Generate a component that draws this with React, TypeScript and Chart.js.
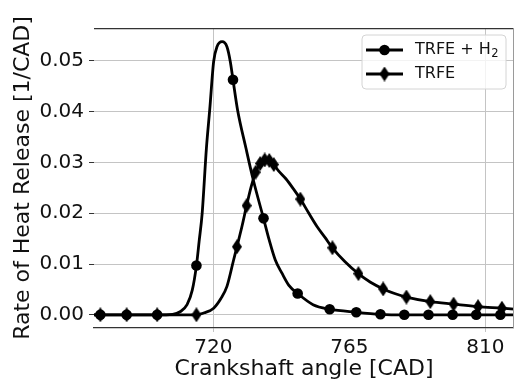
import React, { useEffect, useRef } from "react";
import { Chart, registerables } from "chart.js";

Chart.register(...registerables);

// ---- data ----
const xTicks = [720, 765, 810];
const xGridValues = [720, 810];
const yTicks = [0, 0.01, 0.02, 0.03, 0.04, 0.05];

const legendLabels = ["TRFE + H₂", "TRFE"];
const xTitle = "Crankshaft angle [CAD]";
const yTitle = "Rate of Heat Release [1/CAD]";

const h2Angle = [
  680, 682.6, 691.3, 701.4, 706.5, 709, 711.3, 713, 714.4, 715.3, 716.3, 717.7,
  718.8, 720.1, 721.2, 722.9, 724.5, 725.6, 726.5, 728, 730.8, 733.2, 736.6,
  738.5, 740.5, 742.7, 745, 747.9, 753, 758.5, 767.3, 775.3, 783.2, 791.2,
  799.2, 807, 815, 820,
];
const h2Rate = [
  0, 0, 0, 0, 0.0001, 0.0006, 0.002, 0.0048, 0.0097, 0.0145, 0.02, 0.0328,
  0.0404, 0.0499, 0.0528, 0.0538, 0.0528, 0.0499, 0.0463, 0.0404, 0.0328,
  0.0266, 0.019, 0.0147, 0.0108, 0.0082, 0.0058, 0.0042, 0.002, 0.0011, 0.0005,
  0.0001, 0, 0, 0, 0, 0, 0,
];
const h2Markers = [
  682.6, 691.3, 701.4, 714.4, 726.5, 736.6, 747.9, 758.5, 767.3, 775.3, 783.2,
  791.2, 799.2, 807, 815,
];

const trfeAngle = [
  680, 682.6, 691.3, 701.4, 714.4, 717, 720.1, 722.5, 724.5, 726.7, 727.8,
  729.5, 731, 732.5, 734, 735.5, 737, 738.5, 740, 741.5, 744, 746.5, 748.8,
  751.5, 754.3, 757, 759.4, 763.5, 768, 772, 776.2, 780, 783.9, 791.8, 799.5,
  807.6, 815.5, 820,
];
const trfeRate = [
  0, 0, 0, 0, 0, 0.0004, 0.0013, 0.0032, 0.0056, 0.0108, 0.0134, 0.0175,
  0.0215, 0.0252, 0.0281, 0.0298, 0.0305, 0.0304, 0.0296, 0.0284, 0.0268,
  0.0248, 0.0228, 0.0201, 0.0174, 0.0152, 0.0132, 0.0105, 0.0081, 0.0064,
  0.0051, 0.0042, 0.0035, 0.0026, 0.0021, 0.0016, 0.0013, 0.0011,
];
const trfeMarkers = [
  682.6, 691.3, 701.4, 714.4, 727.8, 731, 734, 735.5, 737, 738.5, 740, 748.8,
  759.4, 768, 776.2, 783.9, 791.8, 799.5, 807.6, 815.5,
];

const FONT = "'DejaVu Sans', 'Liberation Sans', sans-serif";
const INK = "#111111";
const GRID = "#c4c4c4";
const SPINE = "#333333";

function makeThinDiamond(w: number, h: number): HTMLCanvasElement {
  const c = document.createElement("canvas");
  c.width = w;
  c.height = h;
  const g = c.getContext("2d")!;
  g.fillStyle = "#000";
  g.beginPath();
  g.moveTo(w / 2, 0);
  g.lineTo(w, h / 2);
  g.lineTo(w / 2, h);
  g.lineTo(0, h / 2);
  g.closePath();
  g.fill();
  return c;
}

export default function App() {
  const ref = useRef<HTMLCanvasElement | null>(null);

  useEffect(() => {
    document.body.style.margin = "0";
    const canvas = ref.current;
    if (!canvas) return;
    const diamond = makeThinDiamond(10, 15);
    const circleR = 5.3;

    const h2Data = h2Angle.map((x, i) => ({ x, y: h2Rate[i] }));
    const trfeData = trfeAngle.map((x, i) => ({ x, y: trfeRate[i] }));

    const drawMarker = (g: CanvasRenderingContext2D, kind: number, x: number, y: number) => {
      if (kind === 0) {
        g.beginPath();
        g.arc(x, y, circleR, 0, Math.PI * 2);
        g.fillStyle = "#000";
        g.fill();
      } else {
        g.drawImage(diamond, x - diamond.width / 2, y - diamond.height / 2);
      }
    };

    const decor = {
      id: "decor",
      afterDraw(chart: any) {
        const g: CanvasRenderingContext2D = chart.ctx;
        const a = chart.chartArea;
        g.save();
        // top spine
        g.strokeStyle = SPINE;
        g.lineWidth = 1.25;
        g.beginPath();
        g.moveTo(a.left, a.top + 0.5);
        g.lineTo(a.right, a.top + 0.5);
        g.stroke();
        // right edge
        g.strokeStyle = "#9a9a9a";
        g.lineWidth = 1;
        g.beginPath();
        g.moveTo(a.right - 0.5, a.top);
        g.lineTo(a.right - 0.5, a.bottom);
        g.stroke();

        // legend
        const bx = a.right - 152;
        const by = a.top + 7;
        const bw = 144;
        const bh = 54;
        const r = 4;
        g.beginPath();
        g.moveTo(bx + r, by);
        g.lineTo(bx + bw - r, by);
        g.quadraticCurveTo(bx + bw, by, bx + bw, by + r);
        g.lineTo(bx + bw, by + bh - r);
        g.quadraticCurveTo(bx + bw, by + bh, bx + bw - r, by + bh);
        g.lineTo(bx + r, by + bh);
        g.quadraticCurveTo(bx, by + bh, bx, by + bh - r);
        g.lineTo(bx, by + r);
        g.quadraticCurveTo(bx, by, bx + r, by);
        g.closePath();
        g.fillStyle = "rgba(255,255,255,0.8)";
        g.fill();
        g.strokeStyle = "#d4d4d4";
        g.lineWidth = 1;
        g.stroke();

        legendLabels.forEach((label, i) => {
          const ly = by + 15 + i * 24;
          const lx0 = bx + 4;
          const lx1 = bx + 41;
          g.strokeStyle = "#000";
          g.lineWidth = 2.8;
          g.beginPath();
          g.moveTo(lx0, ly);
          g.lineTo(lx1, ly);
          g.stroke();
          drawMarker(g, i, (lx0 + lx1) / 2, ly);
          g.fillStyle = INK;
          g.textBaseline = "middle";
          g.textAlign = "left";
          const tx = bx + 53;
          if (label.endsWith("₂")) {
            const main = label.slice(0, -1);
            g.font = `16px ${FONT}`;
            g.fillText(main, tx, ly);
            const w = g.measureText(main).width;
            g.font = `11.5px ${FONT}`;
            g.fillText("2", tx + w + 0.5, ly + 4);
          } else {
            g.font = `16px ${FONT}`;
            g.fillText(label, tx, ly);
          }
        });
        g.restore();
      },
    };

    const chart = new Chart(canvas, {
      type: "line",
      data: {
        datasets: [
          {
            label: legendLabels[0],
            data: h2Data,
            borderColor: "#000",
            backgroundColor: "#000",
            borderWidth: 2.8,
            cubicInterpolationMode: "monotone",
            pointStyle: "circle",
            pointRadius: (ctx: any) =>
              ctx.raw && h2Markers.includes(ctx.raw.x) ? circleR : 0,
            pointBorderWidth: 0,
            pointHoverRadius: 0,
            order: 1,
          },
          {
            label: legendLabels[1],
            data: trfeData,
            borderColor: "#000",
            backgroundColor: "#000",
            borderWidth: 2.8,
            cubicInterpolationMode: "monotone",
            pointStyle: diamond as any,
            pointRadius: (ctx: any) =>
              ctx.raw && trfeMarkers.includes(ctx.raw.x) ? 5 : 0,
            pointBorderWidth: 0,
            pointHoverRadius: 0,
            order: 0,
          },
        ],
      },
      options: {
        responsive: false,
        animation: false,
        events: [],
        layout: { padding: { top: 28, right: 0, left: 0, bottom: 0 } },
        plugins: {
          legend: { display: false },
          tooltip: { enabled: false },
        },
        scales: {
          x: {
            type: "linear",
            min: 680.5,
            max: 819.5,
            afterFit: (s: any) => {
              s.height = 58;
            },
            afterBuildTicks: (s: any) => {
              s.ticks = xTicks.map((v) => ({ value: v }));
            },
            grid: {
              color: (ctx: any) =>
                ctx.tick && xGridValues.includes(ctx.tick.value) ? GRID : "rgba(0,0,0,0)",
              tickColor: (ctx: any) =>
                ctx.tick && xGridValues.includes(ctx.tick.value) ? GRID : "rgba(0,0,0,0)",
              lineWidth: 1,
              tickLength: 4,
            },
            border: { display: true, color: SPINE, width: 1.25 },
            ticks: {
              color: INK,
              font: { family: FONT, size: 20 },
              padding: 4,
              maxRotation: 0,
              callback: (v: any) => String(v),
            },
            title: {
              display: true,
              text: xTitle,
              color: INK,
              font: { family: FONT, size: 22 },
              padding: { top: 0, bottom: 4 },
            },
          },
          y: {
            type: "linear",
            min: -0.0026,
            max: 0.0565,
            afterFit: (s: any) => {
              s.width = 94;
            },
            afterBuildTicks: (s: any) => {
              s.ticks = yTicks.map((v) => ({ value: v }));
            },
            grid: {
              color: GRID,
              tickColor: SPINE,
              lineWidth: 1,
              tickLength: 5,
            },
            border: { display: false },
            ticks: {
              color: INK,
              font: { family: FONT, size: 20 },
              padding: 5,
              callback: (v: any) => Number(v).toFixed(2),
            },
            title: {
              display: true,
              text: yTitle,
              color: INK,
              font: { family: FONT, size: 22 },
              padding: { top: 10, bottom: 0 },
            },
          },
        },
      },
      plugins: [decor],
    } as any);

    return () => chart.destroy();
  }, []);

  return (
    <div style={{ width: 514, height: 386, position: "relative" }}>
      <canvas ref={ref} width={514} height={386} style={{ display: "block" }} />
    </div>
  );
}
